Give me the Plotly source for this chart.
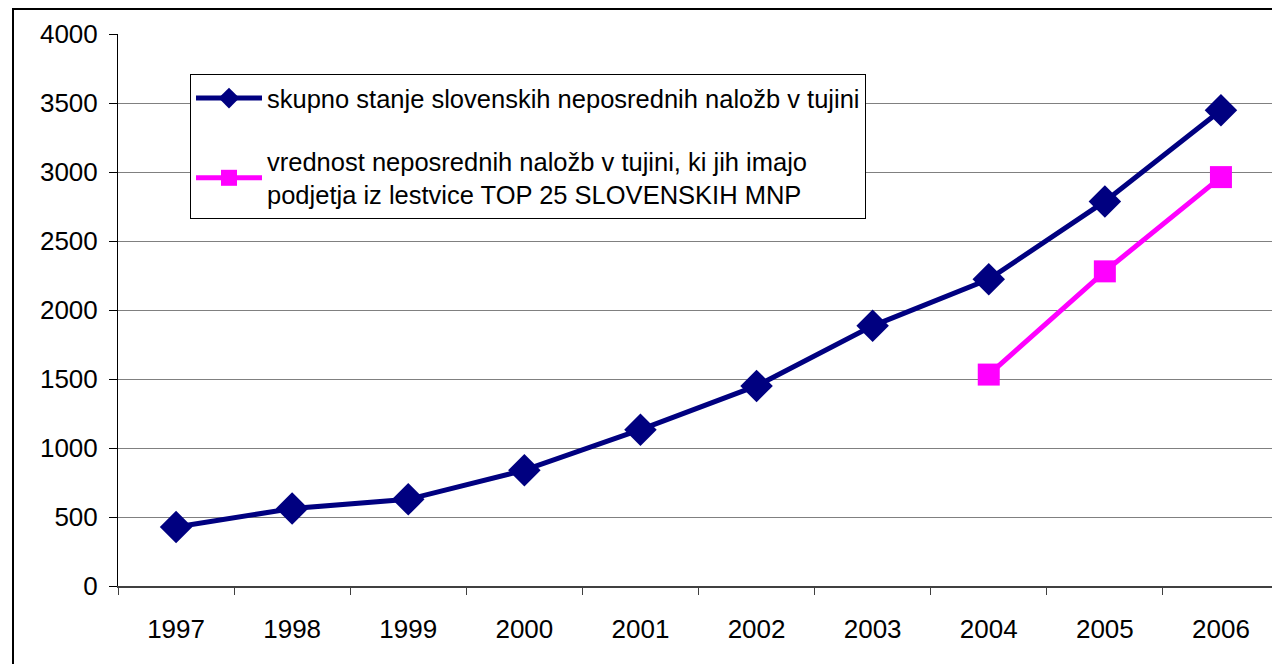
import plotly.graph_objects as go

years = ["1997", "1998", "1999", "2000", "2001", "2002", "2003", "2004", "2005", "2006"]
total_values = [428, 561, 628, 839, 1133, 1450, 1885, 2222, 2787, 3447]
top25_years = ["2004", "2005", "2006"]
top25_values = [1532, 2280, 2963]

name_total = "skupno stanje slovenskih neposrednih naložb v tujini"
name_top25 = "vrednost neposrednih naložb v tujini, ki jih imajo<br>podjetja iz lestvice TOP 25 SLOVENSKIH MNP"

fig = go.Figure()
fig.add_trace(go.Scatter(
    x=years, y=total_values, name=name_total, mode="lines+markers",
    line=dict(color="#000080", width=5),
    marker=dict(symbol="diamond", size=25, color="#000080"),
    legendgroup="a",
))
fig.add_trace(go.Scatter(
    x=top25_years, y=top25_values, name=name_top25, mode="lines+markers",
    line=dict(color="#FF00FF", width=5),
    marker=dict(symbol="square", size=22, color="#FF00FF"),
    legendgroup="b",
))

# page has an 8px body margin; figure coordinates = page coordinates - 8
OFF = 8
W, H = 1280 - OFF, 664 - OFF
L, T = 118 - OFF, 34 - OFF
B = H - (586 - OFF)
R = W - (1279 - OFF)
pw, ph = W - L - R, H - T - B

fig.update_layout(
    width=W, height=H,
    margin=dict(l=L, r=R, t=T, b=B),
    paper_bgcolor="white", plot_bgcolor="white",
    font=dict(family="Liberation Sans, Arial, sans-serif", size=24, color="black"),
    showlegend=True,
    legend=dict(
        x=(190 - 118) / pw, y=1 - (74 - 34) / ph, xanchor="left", yanchor="top",
        bordercolor="black", borderwidth=1, bgcolor="white",
        font=dict(size=25.5), tracegroupgap=27, traceorder="grouped",
        itemwidth=66,
    ),
    xaxis=dict(
        type="category", range=[-0.5, 9.5],
        showline=True, linecolor="#404040", linewidth=2,
        ticks="outside", ticklen=7, tickcolor="#404040", tickson="boundaries",
        showgrid=False, tickfont=dict(size=26), ticklabelstandoff=19,
    ),
    yaxis=dict(
        range=[0, 4000], tickvals=[0, 500, 1000, 1500, 2000, 2500, 3000, 3500, 4000],
        showline=True, linecolor="black", linewidth=1,
        ticks="outside", ticklen=8, tickcolor="black",
        showgrid=True, gridcolor="#808080", gridwidth=1,
        zeroline=False, tickfont=dict(size=26), ticklabelstandoff=6,
    ),
    shapes=[
        dict(type="line", xref="paper", yref="paper", x0=1, x1=1, y0=0, y1=1,
             line=dict(color="#808080", width=1)),
        dict(type="rect", xref="paper", yref="paper",
             x0=(13 - 118) / pw, x1=1.02, y0=-0.3, y1=1 + (T - 1) / ph,
             line=dict(color="black", width=2), layer="below"),
    ],
)

fig.write_html("out.html")
